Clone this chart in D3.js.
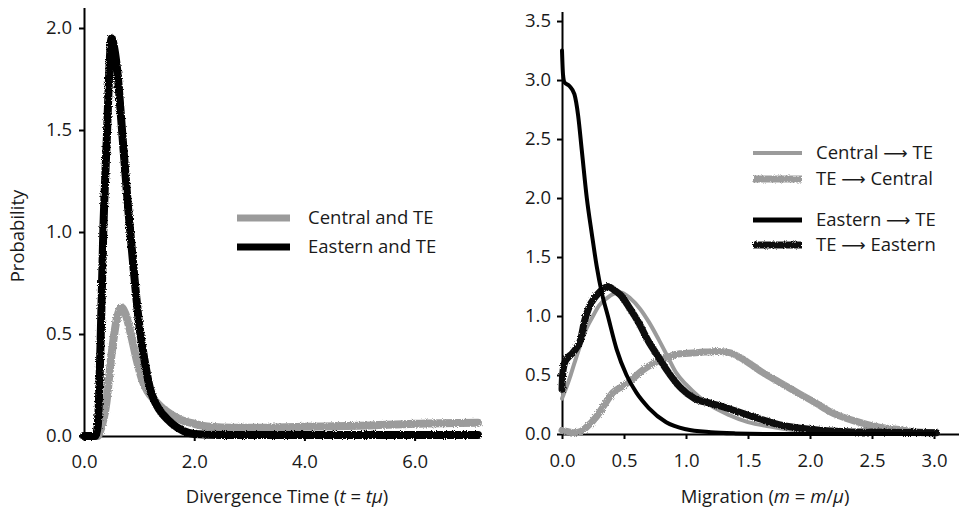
<!DOCTYPE html>
<html>
<head>
<meta charset="utf-8">
<script src="https://cdn.jsdelivr.net/npm/d3@7"></script>
<style>
  body { margin: 0; background: #fff; }
  text { font-family: "Open Sans", "DejaVu Sans", sans-serif; fill: #1a1a1a; }
  .axis path, .axis line { stroke: #000; stroke-width: 2; }
  .axis text { font-size: 18.5px; }
</style>
</head>
<body>
<div id="chart"></div>
<script>
// left panel: divergence time
var divTime = [0, 0.2, 0.25, 0.3, 0.35, 0.42, 0.46, 0.5, 0.55, 0.6, 0.69, 0.8, 0.9, 1.0, 1.1, 1.2, 1.3, 1.45, 1.6, 1.8, 2.0, 2.5, 3, 4, 5, 6, 7.15];
var easternTE = [0, 0, 0.05, 0.45, 1.0, 1.5, 1.8, 1.95, 1.9, 1.8, 1.5, 1.12, 0.82, 0.55, 0.37, 0.23, 0.16, 0.1, 0.06, 0.025, 0.01, 0.005, 0.005, 0.005, 0.005, 0.005, 0.005];

var divTimeC = [0, 0.25, 0.3, 0.4, 0.5, 0.6, 0.68, 0.75, 0.85, 0.95, 1.05, 1.15, 1.3, 1.5, 1.75, 2.0, 2.3, 2.7, 3, 4, 5, 6, 7.15];
var centralTE = [0, 0, 0.03, 0.15, 0.4, 0.58, 0.63, 0.6, 0.5, 0.38, 0.28, 0.22, 0.17, 0.12, 0.08, 0.06, 0.045, 0.04, 0.04, 0.045, 0.05, 0.06, 0.065];

// right panel: migration
var migE2T = [0, 0.008, 0.02, 0.06, 0.1, 0.13, 0.16, 0.2, 0.24, 0.28, 0.32, 0.37, 0.44, 0.52, 0.6, 0.7, 0.84, 1.0, 1.2, 1.4, 1.7, 2.0, 3.0];
var eastToTE = [3.25, 3.05, 2.98, 2.95, 2.88, 2.7, 2.4, 2.0, 1.7, 1.42, 1.2, 1.0, 0.72, 0.5, 0.35, 0.22, 0.1, 0.04, 0.015, 0.005, 0, 0, 0];

var migC2T = [0, 0.03, 0.07, 0.1, 0.15, 0.2, 0.25, 0.3, 0.36, 0.42, 0.47, 0.55, 0.63, 0.7, 0.78, 0.85, 0.92, 1.0, 1.1, 1.2, 1.35, 1.5, 1.7, 1.9, 2.1, 2.4, 3.0];
var centralToTE = [0.3, 0.38, 0.5, 0.6, 0.76, 0.9, 1.0, 1.09, 1.15, 1.19, 1.2, 1.15, 1.06, 0.95, 0.8, 0.66, 0.52, 0.42, 0.32, 0.24, 0.16, 0.1, 0.06, 0.03, 0.015, 0.005, 0];

var migT2E = [0, 0.005, 0.02, 0.05, 0.08, 0.11, 0.15, 0.18, 0.22, 0.26, 0.3, 0.37, 0.42, 0.47, 0.55, 0.62, 0.7, 0.78, 0.84, 0.95, 1.07, 1.2, 1.36, 1.53, 1.75, 2.0, 2.3, 2.6, 3.02];
var teToEast = [0.38, 0.5, 0.6, 0.65, 0.68, 0.72, 0.8, 0.95, 1.08, 1.15, 1.2, 1.25, 1.22, 1.18, 1.06, 0.94, 0.78, 0.65, 0.55, 0.4, 0.3, 0.26, 0.21, 0.15, 0.08, 0.04, 0.02, 0.015, 0.01];

var migT2C = [0, 0.05, 0.1, 0.15, 0.2, 0.28, 0.35, 0.41, 0.48, 0.55, 0.65, 0.74, 0.85, 0.95, 1.1, 1.25, 1.35, 1.45, 1.55, 1.62, 1.75, 1.9, 2.05, 2.16, 2.3, 2.43, 2.55, 2.7, 2.85, 3.0];
var teToCentral = [0.03, 0.02, 0.01, 0.02, 0.06, 0.15, 0.26, 0.35, 0.4, 0.45, 0.54, 0.6, 0.65, 0.68, 0.69, 0.7, 0.69, 0.64, 0.57, 0.52, 0.44, 0.35, 0.26, 0.19, 0.13, 0.09, 0.06, 0.04, 0.02, 0.01];

var leftTicksX = [0, 2, 4, 6];
var leftTicksY = [0, 0.5, 1, 1.5, 2];
var rightTicksX = [0, 0.5, 1, 1.5, 2, 2.5, 3];
var rightTicksY = [0, 0.5, 1, 1.5, 2, 2.5, 3, 3.5];

var svgWidth = 959;
var svgHeight = 517;
var grey = "#9b9b9b";

var svg = d3.select("#chart")
  .append("svg")
  .attr("width", svgWidth)
  .attr("height", svgHeight);

// rough edge for the noisy series
var filt = svg.append("defs").append("filter")
  .attr("id", "rough")
  .attr("filterUnits", "userSpaceOnUse")
  .attr("x", 0).attr("y", 0)
  .attr("width", svgWidth).attr("height", svgHeight);
filt.append("feTurbulence")
  .attr("type", "fractalNoise")
  .attr("baseFrequency", 0.9)
  .attr("numOctaves", 2)
  .attr("result", "noise");
filt.append("feDisplacementMap")
  .attr("in", "SourceGraphic")
  .attr("in2", "noise")
  .attr("scale", 3.5);

function pairs(xs, ys) {
  return xs.map((d, i) => [d, ys[i]]);
}

// ---------- left panel ----------
var xL = d3.scaleLinear().domain([0, 7.15]).range([84, 478]);
var yL = d3.scaleLinear().domain([0, 2.1]).range([436, 7.6]);

var lineL = d3.line()
  .x(d => xL(d[0]))
  .y(d => yL(d[1]))
  .curve(d3.curveMonotoneX);

svg.append("g")
  .attr("class", "axis")
  .attr("transform", "translate(0,436)")
  .call(d3.axisBottom(xL).tickValues(leftTicksX).tickFormat(d3.format(".1f"))
    .tickSize(5).tickSizeOuter(0).tickPadding(14));

svg.append("g")
  .attr("class", "axis")
  .attr("transform", "translate(84,0)")
  .call(d3.axisLeft(yL).tickValues(leftTicksY).tickFormat(d3.format(".1f"))
    .tickSize(5).tickSizeOuter(0).tickPadding(7));

svg.append("path")
  .datum(pairs(divTimeC, centralTE))
  .attr("d", lineL)
  .attr("fill", "none")
  .attr("stroke", grey)
  .attr("stroke-width", 8)
  .attr("stroke-linecap", "round")
  .attr("stroke-linejoin", "round")
  .attr("filter", "url(#rough)");

svg.append("path")
  .datum(pairs(divTime, easternTE))
  .attr("d", lineL)
  .attr("fill", "none")
  .attr("stroke", "#000")
  .attr("stroke-width", 8)
  .attr("stroke-linecap", "round")
  .attr("stroke-linejoin", "round")
  .attr("filter", "url(#rough)");

// left legend
var legL = [
  {label: "Central and TE", color: grey, y: 218},
  {label: "Eastern and TE", color: "#000", y: 247}
];
legL.forEach(function(d) {
  svg.append("line")
    .attr("x1", 237).attr("x2", 290)
    .attr("y1", d.y).attr("y2", d.y)
    .attr("stroke", d.color)
    .attr("stroke-width", 7);
  svg.append("text")
    .attr("x", 308).attr("y", d.y)
    .attr("dy", "0.35em")
    .style("font-size", "18.5px")
    .text(d.label);
});

svg.append("text")
  .attr("transform", "translate(24,236) rotate(-90)")
  .attr("text-anchor", "middle")
  .style("font-size", "18.5px")
  .text("Probability");

var tl = svg.append("text")
  .attr("x", 287).attr("y", 503)
  .attr("text-anchor", "middle")
  .style("font-size", "18.5px");
tl.append("tspan").text("Divergence Time (");
tl.append("tspan").style("font-style", "italic").text("t");
tl.append("tspan").text(" = ");
tl.append("tspan").style("font-style", "italic").text("tμ");
tl.append("tspan").text(")");

// ---------- right panel ----------
var xR = d3.scaleLinear().domain([0, 3.2]).range([562, 958.8]);
var yR = d3.scaleLinear().domain([0, 3.58]).range([434, 11.6]);

var lineR = d3.line()
  .x(d => xR(d[0]))
  .y(d => yR(d[1]))
  .curve(d3.curveMonotoneX);

svg.append("g")
  .attr("class", "axis")
  .attr("transform", "translate(0,434)")
  .call(d3.axisBottom(xR).tickValues(rightTicksX).tickFormat(d3.format(".1f"))
    .tickSize(5).tickSizeOuter(0).tickPadding(15));

svg.append("g")
  .attr("class", "axis")
  .attr("transform", "translate(562,0)")
  .call(d3.axisLeft(yR).tickValues(rightTicksY).tickFormat(d3.format(".1f"))
    .tickSize(5).tickSizeOuter(0).tickPadding(6));

var seriesR = [
  {x: migT2C, y: teToCentral, color: grey, w: 7, rough: true},
  {x: migC2T, y: centralToTE, color: grey, w: 4, rough: false},
  {x: migT2E, y: teToEast, color: "#111", w: 7, rough: true},
  {x: migE2T, y: eastToTE, color: "#000", w: 4, rough: false}
];

seriesR.forEach(function(s) {
  svg.append("path")
    .datum(pairs(s.x, s.y))
    .attr("d", lineR)
    .attr("fill", "none")
    .attr("stroke", s.color)
    .attr("stroke-width", s.w)
    .attr("stroke-linecap", "round")
    .attr("stroke-linejoin", "round")
    .attr("filter", s.rough ? "url(#rough)" : null);
});

// right legend
var legR = [
  {from: "Central", to: "TE", color: grey, w: 4, rough: false, y: 153},
  {from: "TE", to: "Central", color: grey, w: 7, rough: true, y: 179},
  {from: "Eastern", to: "TE", color: "#000", w: 5, rough: false, y: 220},
  {from: "TE", to: "Eastern", color: "#111", w: 7, rough: true, y: 245}
];
legR.forEach(function(d) {
  svg.append("line")
    .attr("x1", 753).attr("x2", 802)
    .attr("y1", d.y).attr("y2", d.y)
    .attr("stroke", d.color)
    .attr("stroke-width", d.w)
    .attr("filter", d.rough ? "url(#rough)" : null);
  var t = svg.append("text")
    .attr("x", 816).attr("y", d.y)
    .attr("dy", "0.35em")
    .style("font-size", "18.5px");
  t.append("tspan").text(d.from + " ");
  t.append("tspan").style("font-family", "DejaVu Sans").style("font-size", "17px").text("⟶");
  t.append("tspan").text(" " + d.to);
});

var tr = svg.append("text")
  .attr("x", 765).attr("y", 503)
  .attr("text-anchor", "middle")
  .style("font-size", "18.5px");
tr.append("tspan").text("Migration (");
tr.append("tspan").style("font-style", "italic").text("m");
tr.append("tspan").text(" = ");
tr.append("tspan").style("font-style", "italic").text("m");
tr.append("tspan").text("/");
tr.append("tspan").style("font-style", "italic").text("μ");
tr.append("tspan").text(")");
</script>
</body>
</html>
